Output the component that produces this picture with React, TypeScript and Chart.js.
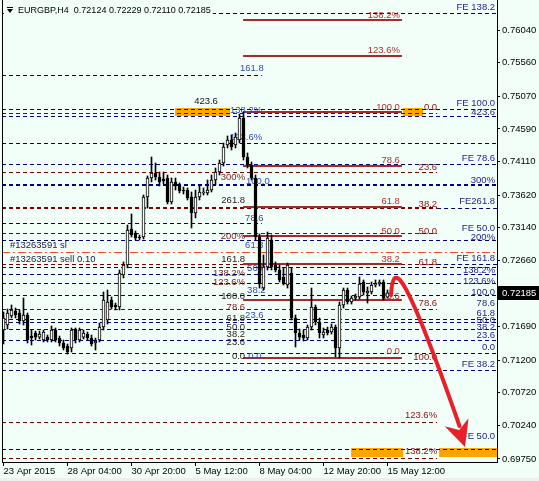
import React, { useEffect, useRef } from 'react';
import { Chart, registerables } from 'chart.js';

Chart.register(...registerables);

// ---------- data ----------
const HEADER = 'EURGBP,H4  0.72124 0.72229 0.72110 0.72185';
const LAST_PRICE = 0.72185;

const X_TICK_BARS = [0, 16, 32, 48, 64, 80, 96];
const X_TICK_LABELS = ['23 Apr 2015', '28 Apr 04:00', '30 Apr 20:00', '5 May 12:00', '8 May 04:00', '12 May 20:00', '15 May 12:00'];
const Y_TICKS = [0.7604, 0.7556, 0.7507, 0.7459, 0.7411, 0.7362, 0.7314, 0.7266, 0.7218, 0.7169, 0.712, 0.7072, 0.7024, 0.6975];

const OPEN = [
  0.71641, 0.71715, 0.71847, 0.7192, 0.71891, 0.71773, 0.71862, 0.71553, 0.71597, 0.71538,
  0.71495, 0.71538, 0.71495, 0.71641, 0.71524, 0.71451, 0.71407, 0.71378, 0.71656, 0.71495,
  0.71538, 0.71582, 0.71524, 0.71451, 0.71495, 0.71685, 0.71788, 0.72081, 0.72008, 0.71979,
  0.72448, 0.72595, 0.73122, 0.73064, 0.73005, 0.73005, 0.73591, 0.7387, 0.73943, 0.73885,
  0.73856, 0.7387, 0.73518, 0.73812, 0.73768, 0.73694, 0.73694, 0.73591, 0.73357, 0.73591,
  0.7365, 0.7365, 0.73694, 0.73841, 0.73958, 0.7409, 0.74354, 0.74427, 0.74354, 0.74427,
  0.7475, 0.74178, 0.74061, 0.7387, 0.73005, 0.72257, 0.72565, 0.72961, 0.72595, 0.72521,
  0.72419, 0.72301, 0.72477, 0.71818, 0.71597, 0.71568, 0.71524, 0.71685, 0.71979, 0.71759,
  0.71568, 0.71641, 0.71612, 0.71685, 0.71378, 0.72008, 0.72228, 0.72052, 0.72111, 0.72126,
  0.72345, 0.72184, 0.72199, 0.72301, 0.72316, 0.72345, 0.72124,
];
const HIGH = [
  0.71906, 0.71949, 0.72008, 0.71964, 0.71935, 0.72111, 0.71891, 0.71641, 0.71626, 0.71626,
  0.71641, 0.71568, 0.717, 0.71671, 0.71553, 0.71495, 0.71436, 0.71671, 0.71671, 0.71671,
  0.71641, 0.71612, 0.71568, 0.71524, 0.71744, 0.72199, 0.72228, 0.72126, 0.72037, 0.72521,
  0.72639, 0.73181, 0.73342, 0.73093, 0.73035, 0.73621, 0.739, 0.74178, 0.7409, 0.73958,
  0.73958, 0.73914, 0.7387, 0.7387, 0.73797, 0.73738, 0.73724, 0.73665, 0.73694, 0.73753,
  0.73724, 0.73841, 0.73914, 0.74017, 0.74134, 0.74383, 0.74486, 0.74501, 0.7453, 0.74808,
  0.74838, 0.74237, 0.74105, 0.73914, 0.73049, 0.72741, 0.73078, 0.73035, 0.72639, 0.72595,
  0.72551, 0.72624, 0.72551, 0.71862, 0.71656, 0.71641, 0.71715, 0.72257, 0.72008, 0.71818,
  0.71671, 0.71685, 0.71729, 0.71715, 0.72052, 0.72257, 0.72257, 0.7214, 0.72169, 0.72419,
  0.72375, 0.72272, 0.72345, 0.72375, 0.72375, 0.72375, 0.72229,
];
const LOW = [
  0.71436, 0.71656, 0.71818, 0.71818, 0.71729, 0.71715, 0.71451, 0.71422, 0.71495, 0.71509,
  0.71466, 0.71466, 0.71466, 0.71466, 0.71407, 0.71348, 0.71289, 0.71319, 0.71451, 0.71466,
  0.71509, 0.71495, 0.71407, 0.71348, 0.71466, 0.71641, 0.71729, 0.71949, 0.71935, 0.71935,
  0.72404, 0.72551, 0.73005, 0.72961, 0.72961, 0.72976, 0.7343, 0.73812, 0.73841, 0.73753,
  0.73782, 0.73489, 0.73489, 0.73694, 0.7365, 0.73636, 0.73548, 0.73137, 0.73284, 0.73548,
  0.73621, 0.73621, 0.73665, 0.73768, 0.73914, 0.74046, 0.7431, 0.74281, 0.7431, 0.74383,
  0.74134, 0.74017, 0.73841, 0.72961, 0.72257, 0.72228, 0.72521, 0.72521, 0.72492, 0.72345,
  0.72301, 0.72257, 0.71788, 0.71392, 0.71495, 0.7148, 0.71495, 0.71641, 0.71715, 0.71524,
  0.71524, 0.71568, 0.71582, 0.71246, 0.71231, 0.71964, 0.72022, 0.72022, 0.72081, 0.72096,
  0.72154, 0.72037, 0.72169, 0.72272, 0.72287, 0.72081, 0.7211,
];
const CLOSE = [
  0.71818, 0.71891, 0.71935, 0.71862, 0.71773, 0.71862, 0.71495, 0.71524, 0.71538, 0.71582,
  0.71612, 0.71495, 0.71641, 0.71495, 0.71451, 0.71378, 0.71319, 0.71641, 0.71495, 0.71641,
  0.71597, 0.71524, 0.71436, 0.7148, 0.71685, 0.72081, 0.72052, 0.71979, 0.71979, 0.72477,
  0.72595, 0.73108, 0.73035, 0.7299, 0.7299, 0.73591, 0.7387, 0.73943, 0.73885, 0.73812,
  0.73826, 0.73518, 0.73812, 0.73753, 0.7368, 0.7368, 0.73577, 0.73357, 0.73591, 0.73665,
  0.73665, 0.73694, 0.73841, 0.73958, 0.7409, 0.74325, 0.74427, 0.74325, 0.74471, 0.7475,
  0.74178, 0.74061, 0.7387, 0.73005, 0.72316, 0.72565, 0.7299, 0.72565, 0.72521, 0.72375,
  0.72316, 0.72595, 0.71818, 0.71597, 0.71538, 0.71524, 0.71685, 0.71979, 0.71759, 0.71597,
  0.71612, 0.71597, 0.71685, 0.71378, 0.72008, 0.72228, 0.72052, 0.72111, 0.7214, 0.72316,
  0.72199, 0.72213, 0.72301, 0.72316, 0.72345, 0.72111, 0.72185,
];

// Fibonacci expansion levels (blue dashed)
const FE_LINES = [0.76289, 0.74882, 0.74779, 0.74383, 0.74075, 0.72961, 0.72565, 0.72462, 0.72331, 0.72154, 0.71803, 0.71759, 0.71656, 0.71495, 0.71304, 0.71055, 0.69897];
const FE_BOLD_LINES = [0.73768];
const FE_SHORT_LINES = [0.7538, 0.7321];
const FE_RIGHT_LINES = [0.7343, 0.72609];
// Retracement levels (maroon dashed)
const RETR_LINES = [0.74823, 0.73958, 0.73064, 0.72609, 0.71949, 0.71158, 0.70293, 0.69765];
const RETR_BOLD_LINES = [0.7343];
// Fibonacci levels (solid brown)
const FIB_SOLID = [0.76187, 0.75659, 0.74838, 0.74046, 0.73445, 0.7302, 0.72609, 0.72081, 0.71231];
// stop-loss line of the order
const SL_PRICE = 0.72785;
// target zones [fromBar, toBar, topPrice, bottomPrice]
const ZONES = [
  [42.9, 56.6, 0.74897, 0.74779],
  [99.9, 104.9, 0.74897, 0.74779],
  [86.9, 99.9, 0.69912, 0.6978],
  [108.9, 123.4, 0.69912, 0.6978],
];

// labels: [text, price]
const FE_RIGHT_LABELS: [string, number][] = [
  ['FE 138.2', 0.76377], ['FE 100.0', 0.7497], ['423.6', 0.74838], ['FE 78.6', 0.74163], ['300%', 0.73841],
  ['FE261.8', 0.73533], ['FE 50.0', 0.73137], ['200%', 0.73005], ['FE 161.8', 0.72697], ['138.2%', 0.72521],
  ['123.6%', 0.7236], ['100.0', 0.72199], ['78.6', 0.72037], ['61.8', 0.71891], ['50.0', 0.71788],
  ['38.2', 0.71685], ['23.6', 0.71568], ['0.0', 0.71392], ['FE 38.2', 0.71143], ['FE 50.0', 0.70085],
];
const RETR_LABELS: [string, number][] = [
  ['0.0', 0.74911], ['23.6', 0.74032], ['38.2', 0.73489], ['50.0', 0.73093], ['61.8', 0.72639],
  ['78.6', 0.72037], ['100.0', 0.71246], ['123.6%', 0.70395], ['138.2%', 0.69867],
];
const SOLID_LABELS: [string, number][] = [
  ['138.2%', 0.7626], ['123.6%', 0.75747], ['100.0', 0.74911], ['78.6', 0.74134], ['61.8', 0.73533],
  ['50.0', 0.73093], ['38.2', 0.72683], ['23.6', 0.7214], ['0.0', 0.71333],
];
const EXP_LABELS: [string, number][] = [
  ['300%', 0.73885], ['261.8', 0.73548], ['200%', 0.7302], ['161.8', 0.72683], ['138.2%', 0.72477],
  ['123.6%', 0.72345], ['100.0', 0.7214], ['78.6', 0.71979], ['61.8', 0.71818], ['50.0', 0.71685],
  ['38.2', 0.71583], ['23.6', 0.71466], ['0.0', 0.71261],
];
const EXP_TOP_LABEL: [string, number, number] = ['423.6', 53.6, 0.75];
// [text, bar, price] left aligned
const MID_LABELS: [string, number, number][] = [
  ['161.8', 59.1, 0.75483], ['138.2%', 56.6, 0.74867], ['123.6%', 56.6, 0.74471], ['100.0', 60.6, 0.73826],
  ['78.6', 60.4, 0.73284], ['61.8', 60.4, 0.72888], ['50.0', 60.9, 0.72551], ['38.2', 60.9, 0.72228],
  ['23.6', 60.4, 0.71861], ['0.0', 61.2, 0.71261],
];
const ORDER_LABELS: [string, number][] = [['#13263591 sl', 0.72888], ['#13263591 sell 0.10', 0.72683]];

// forecast arrow, [bar, price]
const ARROW_PATH: [number, number][] = [[96.875, 0.72154], [97.375, 0.72639], [99.625, 0.72639], [114.0, 0.70234]];
const ARROW_TIP: [number, number] = [115.375, 0.69926];

// ---------- styles ----------
const FONT = "'Liberation Sans', Arial, sans-serif";
const BG = '#F2FFF9';
const BLUE = '#000080';
const MAROON = '#800000';
const BROWN = '#A52A2A';

const overlay = {
  id: 'overlay',
  beforeDraw(chart: any) {
    const { ctx, width, height } = chart;
    ctx.save();
    ctx.fillStyle = BG;
    ctx.fillRect(0, 0, width, height);
    ctx.fillStyle = '#EFEFEF';
    ctx.fillRect(0, height - 3, width, 3);
    ctx.restore();
  },
  beforeDatasetsDraw(chart: any) {
    const { ctx, chartArea: a } = chart;
    const xs = chart.scales.x;
    const ys = chart.scales.y;
    const px = (v: number) => xs.getPixelForValue(v);
    const py = (v: number) => Math.round(ys.getPixelForValue(v)) + 0.5;
    ctx.save();
    // zones
    ctx.fillStyle = '#FFA500';
    ZONES.forEach(([b0, b1, p0, p1]) => {
      const y0 = Math.round(ys.getPixelForValue(p0));
      const y1 = Math.round(ys.getPixelForValue(p1));
      ctx.fillRect(px(b0), y0, px(b1) - px(b0), y1 - y0);
    });
    const hline = (p: number, x0: number, x1: number, color: string, dash: number[], w = 1) => {
      ctx.beginPath();
      ctx.strokeStyle = color;
      ctx.lineWidth = w;
      ctx.setLineDash(dash);
      const y = w % 2 === 0 ? Math.round(ys.getPixelForValue(p)) : py(p);
      ctx.moveTo(x0, y);
      ctx.lineTo(x1, y);
      ctx.stroke();
    };
    const D = [4, 3];
    FE_RIGHT_LINES.forEach((p) => hline(p, px(108.4), a.right, BLUE, D));
    FE_LINES.forEach((p) => hline(p, a.left, a.right, BLUE, D));
    FE_BOLD_LINES.forEach((p) => hline(p, a.left, a.right, BLUE, D, 2));
    FE_SHORT_LINES.forEach((p) => hline(p, a.left, px(64.6), BLUE, D));
    RETR_LINES.forEach((p) => hline(p, a.left, px(108.4), MAROON, D));
    RETR_BOLD_LINES.forEach((p) => hline(p, a.left, px(108.4), MAROON, D, 2));
    hline(SL_PRICE, a.left, a.right, '#F05020', [8, 3, 2, 3]);
    FIB_SOLID.forEach((p) => hline(p, px(59.9), px(99.6), BROWN, [], 2));
    ctx.setLineDash([]);

    // labels
    ctx.font = `9.5px ${FONT}`;
    ctx.textBaseline = 'middle';
    const text = (t: string, bar: number, p: number, align: CanvasTextAlign, color: string) => {
      ctx.textAlign = align;
      ctx.fillStyle = color;
      ctx.fillText(t, px(bar), Math.round(ys.getPixelForValue(p)));
    };
    EXP_LABELS.forEach(([t, p]) => text(t, 60.4, p, 'right', /%|78/.test(t) ? '#7A1E1E' : '#2A1A1A'));
    text(EXP_TOP_LABEL[0], EXP_TOP_LABEL[1], EXP_TOP_LABEL[2], 'right', '#111111');
    MID_LABELS.forEach(([t, b, p]) => text(t, b, p, 'left', '#3548B0'));
    SOLID_LABELS.forEach(([t, p]) => text(t, 99.1, p, 'right', '#B03030'));
    RETR_LABELS.forEach(([t, p]) => text(t, 108.4, p, 'right', '#8B1010'));
    FE_RIGHT_LABELS.forEach(([t, p]) => text(t, 122.9, p, 'right', '#23238C'));
    ORDER_LABELS.forEach(([t, p]) => text(t, 1.6, p, 'left', '#1A1A40'));
    ctx.restore();
  },
  afterDatasetsDraw(chart: any) {
    const { ctx, chartArea: a, width } = chart;
    const xs = chart.scales.x;
    const ys = chart.scales.y;
    const pt = (q: [number, number]) => [xs.getPixelForValue(q[0]), ys.getPixelForValue(q[1])];
    ctx.save();
    // left border
    ctx.fillStyle = '#000';
    ctx.fillRect(Math.round(a.left), a.top, 1, a.bottom - a.top);

    // arrow
    const [p0, c1, c2, p3] = ARROW_PATH.map(pt);
    const tip = pt(ARROW_TIP);
    const red = '#E8202A';
    ctx.strokeStyle = red;
    ctx.lineWidth = 4;
    ctx.lineCap = 'round';
    ctx.beginPath();
    ctx.moveTo(p0[0], p0[1]);
    ctx.bezierCurveTo(c1[0], c1[1], c2[0], c2[1], p3[0], p3[1]);
    ctx.stroke();
    const dx = tip[0] - c2[0];
    const dy = tip[1] - c2[1];
    const ang = Math.atan2(dy, dx) + Math.PI;
    const L = 29;
    const w1 = [tip[0] + L * Math.cos(ang - 0.45), tip[1] + L * Math.sin(ang - 0.45)];
    const w2 = [tip[0] + L * Math.cos(ang + 0.45), tip[1] + L * Math.sin(ang + 0.45)];
    const nt = [tip[0] + 18 * Math.cos(ang), tip[1] + 18 * Math.sin(ang)];
    ctx.fillStyle = red;
    ctx.beginPath();
    ctx.moveTo(tip[0], tip[1]);
    ctx.lineTo(w1[0], w1[1]);
    ctx.lineTo(nt[0], nt[1]);
    ctx.lineTo(w2[0], w2[1]);
    ctx.closePath();
    ctx.fill();

    // header
    ctx.font = `9px ${FONT}`;
    ctx.textBaseline = 'middle';
    ctx.textAlign = 'left';
    const tw = ctx.measureText(HEADER).width;
    ctx.fillStyle = BG;
    ctx.fillRect(4, 5, tw + 16, 11);
    ctx.fillStyle = '#000';
    ctx.beginPath();
    ctx.moveTo(7, 9);
    ctx.lineTo(13, 9);
    ctx.lineTo(10, 13);
    ctx.closePath();
    ctx.fill();
    ctx.fillRect(7, 7, 6, 1);
    ctx.fillText(HEADER, 18, 11);

    // current price box
    const yp = Math.round(ys.getPixelForValue(LAST_PRICE));
    ctx.fillStyle = '#000';
    ctx.fillRect(a.right + 1, yp - 7, width - a.right - 1, 14);
    ctx.fillStyle = '#FFFFFF';
    ctx.font = `9.5px ${FONT}`;
    ctx.fillText(LAST_PRICE.toFixed(5), a.right + 5, yp);
    ctx.restore();
  },
};

export default function App() {
  const ref = useRef<HTMLCanvasElement>(null);
  useEffect(() => {
    document.body.style.margin = '0';
    const canvas = ref.current!;
    const idx = OPEN.map((_, i) => i);
    const chart = new Chart(canvas, {
      type: 'bar',
      data: {
        datasets: [
          {
            label: 'body',
            data: idx.map((i) => ({ x: i, y: [OPEN[i], CLOSE[i]] })) as any,
            backgroundColor: idx.map((i) => (CLOSE[i] >= OPEN[i] ? '#FFFFFF' : '#000000')),
            borderColor: '#000000',
            borderWidth: 1,
            borderSkipped: false,
            barThickness: 3,
            minBarLength: 1,
            grouped: false,
            order: 0,
          } as any,
          {
            label: 'wick',
            data: idx.map((i) => ({ x: i, y: [LOW[i], HIGH[i]] })) as any,
            backgroundColor: '#000000',
            borderWidth: 0,
            barThickness: 1,
            grouped: false,
            order: 1,
          } as any,
        ],
      },
      options: {
        responsive: false,
        maintainAspectRatio: false,
        animation: false,
        devicePixelRatio: 1,
        events: [],
        layout: { padding: { left: 2, top: 0, right: 0, bottom: 0 }, autoPadding: false } as any,
        plugins: { legend: { display: false }, tooltip: { enabled: false } },
        scales: {
          x: {
            type: 'linear',
            min: -0.375,
            max: 123.375,
            offset: false,
            grid: { display: true, drawOnChartArea: false, drawTicks: true, tickLength: 4, color: '#000', offset: false },
            border: { display: true, color: '#000' },
            ticks: {
              autoSkip: false,
              maxRotation: 0,
              minRotation: 0,
              align: 'start',
              padding: 0,
              color: '#000',
              font: { family: FONT, size: 9.5 },
              callback: (v: any) => {
                const k = X_TICK_BARS.indexOf(Number(v));
                return k >= 0 ? X_TICK_LABELS[k] : '';
              },
            },
            afterBuildTicks: (s: any) => {
              s.ticks = X_TICK_BARS.map((v) => ({ value: v }));
            },
            afterFit: (s: any) => {
              s.height = 19;
              s.paddingLeft = 0;
              s.paddingRight = 0;
            },
          } as any,
          y: {
            type: 'linear',
            position: 'right',
            min: 0.69706,
            max: 0.7648,
            grid: { display: true, drawOnChartArea: false, drawTicks: true, tickLength: 3, color: '#000' },
            border: { display: true, color: '#000' },
            ticks: {
              padding: 2,
              color: '#000',
              font: { family: FONT, size: 9.5 },
              callback: (v: any) => Number(v).toFixed(5),
            },
            afterBuildTicks: (s: any) => {
              s.ticks = Y_TICKS.map((v) => ({ value: v }));
            },
            afterFit: (s: any) => {
              s.width = 42;
              s.paddingTop = 0;
              s.paddingBottom = 0;
            },
          } as any,
        },
      },
      plugins: [overlay],
    });
    return () => chart.destroy();
  }, []);
  return <canvas ref={ref} width={539} height={481} style={{ display: 'block', width: 539, height: 481 }} />;
}
